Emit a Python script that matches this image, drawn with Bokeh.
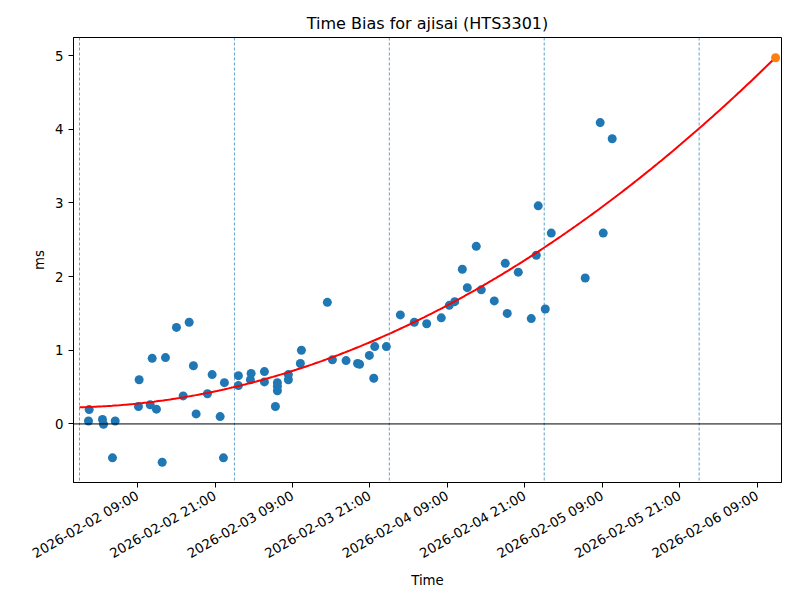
import numpy as np
from datetime import datetime, timedelta
from bokeh.plotting import figure
from bokeh.models import Range1d, FixedTicker, Span, DatetimeTickFormatter
from bokeh.embed import file_html
from bokeh.resources import INLINE

# ---- data ----
base_time = "2026-02-02 00:00"
# hours after base_time for each measurement
hours = [1.50, 1.39, 3.56, 3.72, 5.53, 5.11, 9.24, 9.14, 10.95, 11.92, 11.26, 13.32, 12.81,
         15.02, 16.99, 17.65, 16.06, 18.07, 19.82, 20.55, 21.79, 22.45, 22.30,
         24.62, 24.62, 26.59, 26.48, 28.65, 28.65, 30.66, 30.66, 30.66, 30.35,
         32.36, 32.36, 34.38, 34.22, 38.40, 39.18, 41.30, 43.08, 43.39, 44.91,
         45.59, 45.74, 47.54, 49.71, 51.87, 53.79, 56.05, 57.29, 58.13, 59.31,
         60.08, 61.47, 62.25, 64.26, 65.96, 66.27, 67.98, 69.99, 70.77, 71.07,
         72.16, 73.09, 78.35, 81.14, 80.67, 82.53]
bias_ms = [0.195, 0.04, 0.06, -0.005, 0.04, -0.46, 0.60, 0.236, 0.26, 0.20, 0.89, 0.90, -0.52,
           1.31, 1.38, 0.79, 0.38, 0.136, 0.41, 0.67, 0.10, 0.56, -0.46,
           0.655, 0.52, 0.686, 0.60, 0.71, 0.57, 0.56, 0.51, 0.45, 0.236,
           0.67, 0.60, 1.00, 0.82, 1.65, 0.87, 0.86, 0.82, 0.81, 0.93,
           0.62, 1.05, 1.05, 1.48, 1.38, 1.36, 1.44, 1.61, 1.66, 2.10,
           1.85, 2.41, 1.82, 1.67, 2.18, 1.50, 2.06, 1.43, 2.29, 2.96,
           1.56, 2.59, 1.98, 2.59, 4.09, 3.87]
# quadratic fit coefficients (ms vs hours after base_time), highest power first
fit_coef = [3.883e-4, 0.00215, 0.226]
predict_hours = 107.84
predict_ms = 4.97
tick_labels = ["2026-02-02 09:00", "2026-02-02 21:00", "2026-02-03 09:00", "2026-02-03 21:00",
               "2026-02-04 09:00", "2026-02-04 21:00", "2026-02-05 09:00", "2026-02-05 21:00",
               "2026-02-06 09:00"]
day_lines = ["2026-02-02 00:00", "2026-02-03 00:00", "2026-02-04 00:00", "2026-02-05 00:00",
             "2026-02-06 00:00"]
y_ticks = [0, 1, 2, 3, 4, 5]

# ---- helpers ----
FMT = "%Y-%m-%d %H:%M"
EPOCH = datetime(1970, 1, 1)
def to_ms(dt):
    return (dt - EPOCH).total_seconds() * 1000.0
base = datetime.strptime(base_time, FMT)
def h2ms(h):
    return to_ms(base + timedelta(hours=float(h)))

x = [h2ms(h) for h in hours]
t_fit = np.linspace(0, predict_hours, 300)
y_fit = np.polyval(fit_coef, t_fit)
x_fit = [h2ms(h) for h in t_fit]

tick_ms = [to_ms(datetime.strptime(s, FMT)) for s in tick_labels]

p = figure(width=800, height=600, x_axis_type="datetime",
           output_backend="svg", toolbar_location=None,
           x_range=Range1d(h2ms(-0.93), h2ms(108.76)),
           y_range=Range1d(-0.795, 5.245),
           frame_width=708, frame_height=445,
           min_border_left=73, min_border_right=19, min_border_top=37, min_border_bottom=118)

p.title.text = "Time Bias for ajisai (HTS3301)"
p.title.align = "center"
p.title.text_font = "DejaVu Sans"
p.title.text_font_size = "16px"
p.title.text_font_style = "normal"
p.title.text_color = "black"

p.xgrid.visible = False
p.ygrid.visible = False
p.outline_line_color = "black"
p.outline_line_alpha = 1
p.outline_line_width = 1
p.background_fill_color = "white"
p.border_fill_color = "white"

for ax in (p.xaxis[0], p.yaxis[0]):
    ax.axis_line_color = "black"
    ax.major_tick_line_color = "black"
    ax.major_tick_in = 0
    ax.major_tick_out = 5
    ax.minor_tick_line_color = None
    ax.major_label_text_font = "DejaVu Sans"
    ax.major_label_text_font_size = "13.33px"
    ax.major_label_text_color = "black"
    ax.axis_label_text_font = "DejaVu Sans"
    ax.axis_label_text_font_size = "13.33px"
    ax.axis_label_text_font_style = "normal"
    ax.axis_label_text_color = "black"

p.xaxis.ticker = FixedTicker(ticks=tick_ms)
p.xaxis.formatter = DatetimeTickFormatter(hours=FMT, days=FMT, hourmin=FMT, minutes=FMT)
p.xaxis.major_label_overrides = {float(m): s for m, s in zip(tick_ms, tick_labels)}
p.xaxis.major_label_orientation = np.pi / 6
p.xaxis.major_label_standoff = 7
p.xaxis.axis_label = "Time"
p.xaxis.axis_label_standoff = 2
p.yaxis.ticker = FixedTicker(ticks=y_ticks)
p.yaxis.axis_label = "ms"

for d in day_lines:
    p.add_layout(Span(location=to_ms(datetime.strptime(d, FMT)), dimension="height",
                      line_color="#1f77b4", line_width=0.7, line_dash="3 2"))
p.add_layout(Span(location=0, dimension="width", line_color="black", line_width=1))

p.scatter(x, bias_ms, size=9, color="#1f77b4", line_color=None)
p.line(x_fit, y_fit, line_color="#ff0000", line_width=2)
p.scatter([h2ms(predict_hours)], [predict_ms], size=9, color="#ff7f0e", line_color=None)

open("out.html", "w").write(file_html(p, INLINE))
